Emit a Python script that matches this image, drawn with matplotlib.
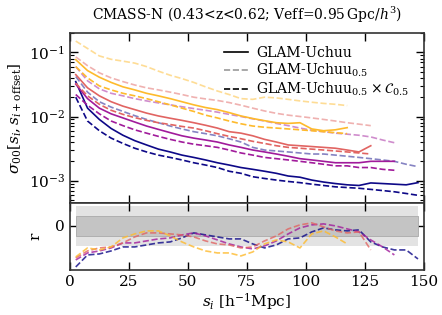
import numpy as np
import matplotlib
matplotlib.use("Agg")
import matplotlib.pyplot as plt
from matplotlib import cm
from matplotlib.lines import Line2D

plt.rcParams['font.family'] = ['DejaVu Serif']
plt.rcParams['mathtext.fontset'] = 'dejavuserif'

s_all = [2.5 + 5 * k for k in range(30)]

# sigma_00 values: solid (GLAM-Uchuu), light dashed (GLAM-Uchuu_0.5), dark dashed (x C_0.5)
navy_solid = [0.035, 0.0135, 0.009, 0.0065, 0.0051, 0.0042, 0.0036, 0.0031, 0.0028, 0.0025,
              0.0023, 0.0021, 0.0019, 0.00175, 0.0016, 0.0015, 0.0014, 0.0013, 0.00118, 0.00113,
              0.00102, 0.00095, 0.00090, 0.00086, 0.00084, 0.00092, 0.00090, 0.00088, 0.00086, 0.00093]
navy_light = [0.042, 0.024, 0.017, 0.014, 0.012, 0.0103, 0.0090, 0.0080, 0.0071, 0.0064,
              0.0058, 0.0054, 0.0050, 0.0045, 0.0040, 0.0033, 0.0030, 0.0029, 0.0028, 0.0027,
              0.0026, 0.0026, 0.0025, 0.0024, 0.0023, 0.0022, 0.0021, 0.0020, 0.0018, 0.00165]
navy_dark = [0.020, 0.0085, 0.0060, 0.0046, 0.0038, 0.0032, 0.0028, 0.0025, 0.0023, 0.0021,
             0.0019, 0.00175, 0.0016, 0.0014, 0.0013, 0.00115, 0.00108, 0.00102, 0.00097, 0.00093,
             0.00088, 0.00084, 0.00080, 0.00078, 0.00076, 0.00073, 0.00070, 0.00067, 0.00063, 0.00059]

purple_solid = [0.032, 0.019, 0.0135, 0.0110, 0.0095, 0.0082, 0.0071, 0.0063, 0.0056, 0.0050,
                0.0046, 0.0043, 0.0040, 0.0036, 0.0033, 0.0030, 0.0028, 0.0026, 0.0024, 0.0022,
                0.0021, 0.0020, 0.0019, 0.0019, 0.0019, 0.0020, 0.0020, 0.0020]
purple_light = [0.060, 0.036, 0.027, 0.023, 0.021, 0.019, 0.0175, 0.0163, 0.0152, 0.0142,
                0.0133, 0.0125, 0.0117, 0.0108, 0.0100, 0.0092, 0.0085, 0.0078, 0.0072, 0.0066,
                0.0061, 0.0058, 0.0055, 0.0053, 0.0051, 0.0048, 0.0043, 0.0039]
purple_dark = [0.022, 0.015, 0.011, 0.0085, 0.0072, 0.0062, 0.0055, 0.0049, 0.0044, 0.0040,
               0.0037, 0.0035, 0.0033, 0.0030, 0.0027, 0.0025, 0.0023, 0.0022, 0.0021, 0.0020,
               0.0019, 0.0018, 0.0017, 0.0017, 0.0016, 0.0016, 0.0015, 0.00145]

red_solid = [0.045, 0.028, 0.021, 0.017, 0.0145, 0.0128, 0.0113, 0.0102, 0.0094, 0.0087,
             0.0080, 0.0073, 0.0066, 0.0058, 0.0055, 0.0050, 0.0044, 0.0040, 0.0036, 0.0035,
             0.0034, 0.0033, 0.0032, 0.0030, 0.0028, 0.0035]
red_light = [0.085, 0.062, 0.048, 0.040, 0.035, 0.031, 0.028, 0.026, 0.024, 0.022,
             0.020, 0.0188, 0.0178, 0.0165, 0.0150, 0.0135, 0.0122, 0.0112, 0.0105, 0.0100,
             0.0095, 0.0090, 0.0085, 0.0080, 0.0076, 0.0072]
red_dark = [0.033, 0.021, 0.0155, 0.0125, 0.0108, 0.0096, 0.0087, 0.0080, 0.0075, 0.0070,
            0.0066, 0.0060, 0.0054, 0.0049, 0.0045, 0.0041, 0.0038, 0.0035, 0.0033, 0.0032,
            0.0031, 0.0030, 0.0029, 0.0028, 0.0027, 0.0026]

orange_solid = [0.077, 0.052, 0.041, 0.034, 0.029, 0.026, 0.023, 0.021, 0.019, 0.0170,
                0.0152, 0.0138, 0.0128, 0.0115, 0.0102, 0.0093, 0.0086, 0.0080, 0.0078, 0.0080,
                0.0064, 0.0060, 0.0062, 0.0067]
orange_light = [0.150, 0.115, 0.088, 0.078, 0.073, 0.068, 0.060, 0.051, 0.044, 0.039,
                0.034, 0.029, 0.025, 0.022, 0.019, 0.0185, 0.020, 0.0195, 0.0185, 0.0175,
                0.0167, 0.016, 0.0155, 0.0148]
orange_dark = [0.060, 0.040, 0.030, 0.026, 0.023, 0.021, 0.019, 0.017, 0.0152, 0.0135,
               0.0120, 0.0105, 0.0095, 0.0085, 0.0077, 0.0071, 0.0068, 0.0066, 0.0064, 0.0062,
               0.0060, 0.0058, 0.0056, 0.0054]

# ratio panel r
navy_r = [-0.41, -0.29, -0.28, -0.25, -0.21, -0.21, -0.19, -0.17, -0.16, -0.12,
          -0.07, -0.09, -0.11, -0.13, -0.13, -0.18, -0.22, -0.19, -0.13, -0.12,
          -0.06, -0.02, -0.04, -0.05, -0.04, -0.16, -0.21, -0.24, -0.24, -0.33]
purple_r = [-0.34, -0.27, -0.25, -0.22, -0.17, -0.17, -0.15, -0.13, -0.12, -0.09,
            -0.07, -0.10, -0.14, -0.18, -0.21, -0.23, -0.20, -0.15, -0.08, -0.02,
            0.01, 0.02, 0.0, -0.03, -0.06, -0.14, -0.21, -0.29]
red_r = [-0.32, -0.25, -0.22, -0.21, -0.17, -0.11, -0.07, -0.07, -0.08, -0.09,
         -0.11, -0.15, -0.18, -0.19, -0.22, -0.21, -0.15, -0.10, -0.03, 0.01,
         0.03, -0.01, -0.05, -0.07, -0.06, -0.24]
orange_r = [-0.31, -0.22, -0.24, -0.21, -0.12, -0.08, -0.05, -0.05, -0.10, -0.16,
            -0.21, -0.25, -0.27, -0.27, -0.30, -0.26, -0.18, -0.14, -0.16, -0.22,
            -0.08, -0.05, -0.11, -0.18]

colors = [cm.plasma(0.0), cm.plasma(0.35), cm.plasma(0.6), cm.plasma(0.85)]
groups = [
    (navy_solid, navy_light, navy_dark, navy_r),
    (purple_solid, purple_light, purple_dark, purple_r),
    (red_solid, red_light, red_dark, red_r),
    (orange_solid, orange_light, orange_dark, orange_r),
]

fig = plt.figure(figsize=(4.42, 3.15), dpi=100)
ax = fig.add_axes([0.158, 0.356, 0.801, 0.539])
axr = fig.add_axes([0.158, 0.143, 0.801, 0.213])

lw = 1.2
for c, (sol, lig, dar, rr) in zip(colors, groups):
    n = len(sol)
    x = s_all[:n]
    ax.plot(x, sol, color=c, lw=lw, ls='-')
    ax.plot(x, lig, color=c, lw=lw, ls='--', alpha=0.5)
    ax.plot(x, dar, color=c, lw=lw, ls='--')
    axr.plot(s_all[:len(rr)], rr, color=c, lw=lw, ls='--', alpha=0.8, zorder=3)

ax.set_yscale('log')
ax.set_xlim(0, 150)
ax.set_ylim(4.5e-4, 0.2)
ax.set_xticks([0, 25, 50, 75, 100, 125, 150])
ax.tick_params(axis='x', labelbottom=False)
ax.set_ylabel(r'$\sigma_{00}[s_i, s_{i+\mathrm{offset}}]$', fontsize=11, labelpad=3)

band_x = [2.5, 147.5]
axr.fill_between(band_x, [-0.2, -0.2], [0.2, 0.2], color='#e3e3e3', zorder=1, lw=0)
axr.fill_between(band_x, [-0.1, -0.1], [0.1, 0.1], color='#c4c4c4', zorder=2, lw=0.6,
                 edgecolor='#aaaaaa')
axr.set_xlim(0, 150)
axr.set_ylim(-0.44, 0.23)
axr.set_yticks([0])
axr.set_xticks([0, 25, 50, 75, 100, 125, 150])
axr.set_ylabel('r', fontsize=11, labelpad=9)
axr.set_xlabel(r'$s_i$ [h$^{-1}$Mpc]', fontsize=11, labelpad=2)

for a in (ax, axr):
    a.tick_params(which='both', direction='in', top=True, right=True, labelsize=11)
    a.tick_params(which='major', length=6, width=1.0)
    a.tick_params(which='minor', length=3, width=0.8)
    for sp in a.spines.values():
        sp.set_linewidth(1.2)
        sp.set_color('#333333')

handles = [Line2D([], [], color='black', lw=lw, ls='-'),
           Line2D([], [], color='black', lw=lw, ls='--', alpha=0.4),
           Line2D([], [], color='black', lw=lw, ls='--')]
labels = ['GLAM-Uchuu', r'GLAM-Uchuu$_{0.5}$', r'GLAM-Uchuu$_{0.5}\times\mathcal{C}_{0.5}$']
ax.legend(handles, labels, loc='upper right', frameon=False, fontsize=10,
          handlelength=1.7, handletextpad=0.6, labelspacing=0.1,
          bbox_to_anchor=(0.975, 0.955), borderaxespad=0.0)

fig.suptitle(r'CMASS-N (0.43<z<0.62; Veff=0.95$\,$Gpc/$h^3$)', x=0.56, y=0.985,
             fontsize=10)

fig.savefig('out.png', dpi=100)
